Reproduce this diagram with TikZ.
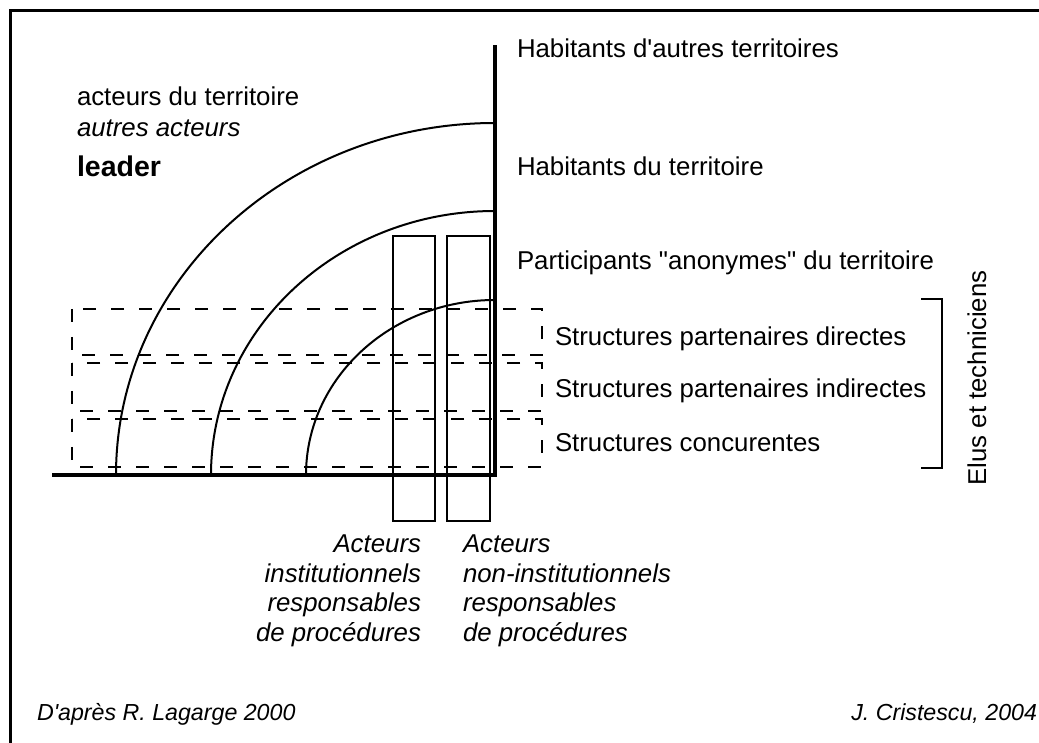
\documentclass[tikz,border=0pt]{standalone}
\usepackage{fontspec}
\setmainfont{Liberation Sans}[Ligatures=TeXOff]
\begin{document}
\begin{tikzpicture}[x=1pt,y=1pt,
  lbl/.style={inner sep=0pt,outer sep=0pt,font=\fontsize{25.8}{30}\selectfont},
  itl/.style={lbl,font=\fontsize{25.8}{30}\selectfont\itshape},
  foot/.style={inner sep=0pt,outer sep=0pt,font=\fontsize{23.2}{27}\selectfont\itshape},
  axisline/.style={line width=4.5pt,line join=miter},
  ring/.style={line width=2pt},
  actbox/.style={line width=2pt},
  zone/.style={line width=2pt,dash pattern=on 13pt off 15pt},
  frameline/.style={line width=3pt}]
\useasboundingbox (0,0) rectangle (1039,742);
% frame (top and left edges visible)
\draw[frameline] (10,-5) -- (10,731) -- (1045,731);
% arcs
\draw[ring] (116,267) arc[start angle=180,end angle=90,x radius=379,y radius=352];
\draw[ring] (211,267) arc[start angle=180,end angle=90,x radius=284,y radius=264];
\draw[ring] (306,267) arc[start angle=180,end angle=90,x radius=189,y radius=175];
% dashed zones
\draw[zone] (72,433) rectangle (542,387);
\draw[zone] (72,379) rectangle (542,331);
\draw[zone] (72,323) rectangle (542,275);
% actor boxes
\draw[actbox] (393,506) rectangle (435,221);
\draw[actbox] (447,506) rectangle (490,221);
% axes
\draw[axisline] (52,267) -- (495,267) -- (495,697);
% bracket
\draw[line width=2pt] (921,443) -- (942,443) -- (942,274) -- (921,274);
% labels right
\node[lbl,anchor=base west] (hab1) at (517,684) {Habitants d'autres territoires};
\node[lbl,anchor=base west] (hab2) at (517,566) {Habitants du territoire};
\node[lbl,anchor=base west] (part) at (517,472) {Participants "anonymes" du territoire};
\node[lbl,anchor=base west] (s1) at (555,396) {Structures partenaires directes};
\node[lbl,anchor=base west] (s2) at (555,344) {Structures partenaires indirectes};
\node[lbl,anchor=base west] (s3) at (555,290) {Structures concurentes};
\node[lbl,anchor=base,rotate=90] (elus) at (986,364) {Elus et techniciens};
% labels left
\node[lbl,anchor=base west] (act) at (77,636) {acteurs du territoire};
\node[itl,anchor=base west] (autres) at (77,605) {autres acteurs};
\node[lbl,anchor=base west,font=\fontsize{28.5}{32}\selectfont\bfseries] (lead) at (77,565) {leader};
% bottom labels
\node[itl,anchor=base east] (i1) at (421,189) {Acteurs};
\node[itl,anchor=base east] (i2) at (421,159) {institutionnels};
\node[itl,anchor=base east] (i3) at (421,130) {responsables};
\node[itl,anchor=base east] (i4) at (421,100) {de procédures};
\node[itl,anchor=base west] (n1) at (463,189) {Acteurs};
\node[itl,anchor=base west] (n2) at (463,159) {non-institutionnels};
\node[itl,anchor=base west] (n3) at (463,130) {responsables};
\node[itl,anchor=base west] (n4) at (463,100) {de procédures};
% footer
\node[foot,anchor=base west] (src) at (37,22) {D'après R. Lagarge 2000};
\node[foot,anchor=base east] (auth) at (1037,22) {J. Cristescu, 2004};
\end{tikzpicture}
\end{document}
